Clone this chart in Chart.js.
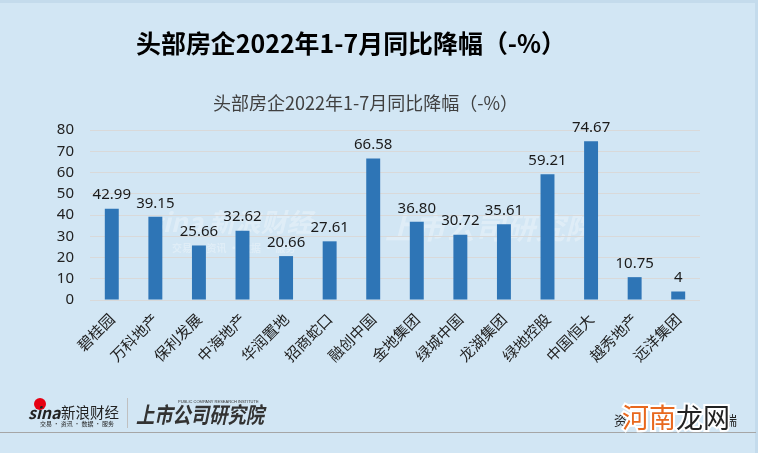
<!DOCTYPE html>
<html>
<head>
<meta charset="utf-8">
<script src="https://cdn.jsdelivr.net/npm/chart.js@4"></script>
<style>
  html, body { margin: 0; padding: 0; background: #d2e6f4; }
  #wrap { width: 758px; height: 453px; position: relative; }
</style>
</head>
<body>
<div id="wrap"><canvas id="c" width="758" height="453"></canvas></div>
<script>
// ========== DATA ==========
const companies = ["碧桂园", "万科地产", "保利发展", "中海地产", "华润置地", "招商蛇口", "融创中国",
  "金地集团", "绿城中国", "龙湖集团", "绿地控股", "中国恒大", "越秀地产", "远洋集团"];
const declines = [42.99, 39.15, 25.66, 32.62, 20.66, 27.61, 66.58, 36.80, 30.72, 35.61, 59.21, 74.67, 10.75, 4];
const yTicks = [0, 10, 20, 30, 40, 50, 60, 70, 80];

const mainTitle = "头部房企2022年1-7月同比降幅（-%）";
const chartTitle = "头部房企2022年1-7月同比降幅（-%）";

const CJK = '"Noto Sans CJK SC", "Noto Sans", sans-serif';

// background, frame, titles, footer
const decor = {
  id: "decor",
  beforeDraw(chart) {
    const ctx = chart.ctx;
    ctx.save();
    ctx.fillStyle = "#d2e6f4";
    ctx.fillRect(0, 0, 758, 453);
    ctx.fillStyle = "#c4dbec";
    ctx.fillRect(0, 0, 758, 3);
    ctx.fillRect(755, 0, 3, 453);

    ctx.fillStyle = "#000";
    ctx.textBaseline = "middle";
    ctx.font = "bold 25px " + CJK;
    ctx.fillText(mainTitle, 136, 43, 430);

    ctx.fillStyle = "#404040";
    ctx.font = "18px " + CJK;
    ctx.fillText(chartTitle, 213, 103, 330);

    // faint watermarks in plot
    ctx.fillStyle = "rgba(255,255,255,0.3)";
    ctx.font = "italic bold 26px " + CJK;
    ctx.fillText("sina 新浪财经", 150, 222, 190);
    ctx.font = "bold 10px " + CJK;
    ctx.fillText("交易 · 资讯 · 数据 · 服务", 172, 248, 150);
    ctx.font = "italic bold 30px " + CJK;
    ctx.fillText("上市公司研究院", 385, 228, 220);

    // footer
    ctx.strokeStyle = "#a6a6a6";
    ctx.lineWidth = 1;
    ctx.beginPath();
    ctx.moveTo(0, 432.5);
    ctx.lineTo(756, 432.5);
    ctx.stroke();

    ctx.fillStyle = "#e60012";
    ctx.beginPath();
    ctx.arc(40, 404, 6, 0, Math.PI * 2);
    ctx.fill();
    ctx.fillStyle = "#222";
    ctx.font = "italic bold 16px " + CJK;
    ctx.fillText("sina", 28, 413);
    ctx.font = "15px " + CJK;
    ctx.fillText("新浪财经", 61, 412, 58);
    ctx.font = "6px " + CJK;
    ctx.fillText("交易 · 资讯 · 数据 · 服务", 40, 424, 76);
    ctx.strokeStyle = "#c0c0c0";
    ctx.beginPath();
    ctx.moveTo(127.5, 398);
    ctx.lineTo(127.5, 428);
    ctx.stroke();
    ctx.fillStyle = "#333";
    ctx.font = "italic bold 22px " + CJK;
    ctx.fillText("上市公司研究院", 136, 415, 128);
    ctx.font = "4px sans-serif";
    ctx.fillText("PUBLIC COMPANY RESEARCH INSTITUTE", 178, 402, 84);

    ctx.fillStyle = "#222";
    ctx.font = "13px " + CJK;
    ctx.fillText("资", 614, 420);
    ctx.fillText("瑞", 724, 420);
    ctx.font = "27px " + CJK;
    ctx.lineWidth = 4;
    ctx.strokeStyle = "#fff";
    ctx.strokeText("河南", 622, 418);
    ctx.strokeText("龙网", 676, 418);
    ctx.fillStyle = "#e8681e";
    ctx.fillText("河南", 622, 418);
    ctx.fillStyle = "#222";
    ctx.fillText("龙网", 676, 418);
    ctx.restore();
  },
  afterDatasetsDraw(chart) {
    const ctx = chart.ctx;
    const meta = chart.getDatasetMeta(0);
    ctx.save();
    ctx.fillStyle = "#1a1a1a";
    ctx.font = '15px "Noto Sans", sans-serif';
    ctx.textAlign = "center";
    ctx.textBaseline = "bottom";
    meta.data.forEach((bar, i) => {
      const v = declines[i];
      const txt = Number.isInteger(v) ? String(v) : v.toFixed(2);
      ctx.fillText(txt, bar.x, bar.y - 6);
    });
    ctx.restore();
  }
};

new Chart(document.getElementById("c"), {
  type: "bar",
  data: {
    labels: companies,
    datasets: [{
      data: declines,
      backgroundColor: "#2e75b6",
      categoryPercentage: 1,
      barPercentage: 0.32
    }]
  },
  options: {
    responsive: false,
    animation: false,
    devicePixelRatio: 1,
    layout: { padding: { left: 30, right: 58, top: 130, bottom: 33 } },
    plugins: { legend: { display: false }, title: { display: false }, tooltip: { enabled: false } },
    scales: {
      x: {
        grid: { display: false },
        border: { display: false },
        ticks: {
          color: "#222",
          font: { family: CJK, size: 15 },
          minRotation: 45,
          maxRotation: 45,
          padding: 2,
          autoSkip: false
        },
        afterFit(s) { s.height = 120; }
      },
      y: {
        min: 0,
        max: 80,
        afterBuildTicks(s) { s.ticks = yTicks.map(v => ({ value: v })); },
        grid: { color: "#d9d9d9", drawTicks: false },
        border: { display: false },
        ticks: {
          color: "#222",
          padding: 16,
          font: { family: '"Noto Sans", sans-serif', size: 15 }
        },
        afterFit(s) { s.width = 60; }
      }
    }
  },
  plugins: [decor]
});
</script>
</body>
</html>
